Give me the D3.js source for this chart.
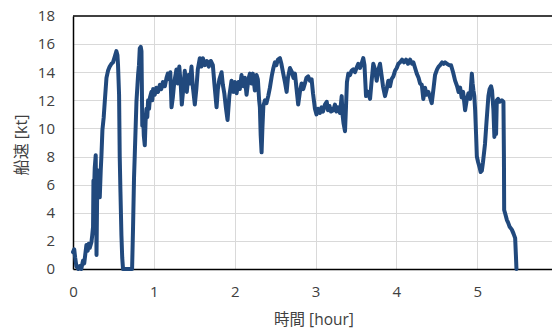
<!DOCTYPE html>
<html>
<head>
<meta charset="utf-8">
<script src="https://cdn.jsdelivr.net/npm/d3@7"></script>
<style>
  html, body { margin: 0; padding: 0; background: #fff; }
  svg { display: block; }
  text { font-family: "Open Sans", "Noto Sans CJK JP", sans-serif; fill: #404040; }
</style>
</head>
<body>
<svg id="chart" width="552" height="330"></svg>
<script>
// elapsed time [hour]
const timeHours = [
  0.000, 0.015, 0.027, 0.042, 0.064, 0.083, 0.102, 0.124, 0.139, 0.151,
  0.166, 0.182, 0.194, 0.207, 0.228, 0.238, 0.248, 0.253, 0.260, 0.269,
  0.281, 0.287, 0.291, 0.300, 0.310, 0.322, 0.331, 0.343, 0.352, 0.364,
  0.380, 0.393, 0.414, 0.433, 0.454, 0.476, 0.495, 0.516, 0.537, 0.550,
  0.557, 0.570, 0.578, 0.587, 0.599, 0.609, 0.619, 0.731, 0.743, 0.755,
  0.764, 0.785, 0.805, 0.816, 0.826, 0.838, 0.847, 0.851, 0.857, 0.867,
  0.876, 0.888, 0.898, 0.909, 0.919, 0.929, 0.941, 0.952, 0.971, 0.981,
  0.991, 1.012, 1.030, 1.053, 1.074, 1.092, 1.111, 1.136, 1.157, 1.173,
  1.191, 1.204, 1.219, 1.235, 1.253, 1.280, 1.296, 1.315, 1.334, 1.346,
  1.359, 1.383, 1.408, 1.427, 1.445, 1.466, 1.482, 1.507, 1.526, 1.544,
  1.569, 1.588, 1.606, 1.631, 1.656, 1.680, 1.705, 1.730, 1.749, 1.776,
  1.792, 1.811, 1.838, 1.854, 1.872, 1.891, 1.912, 1.934, 1.961, 1.984,
  2.002, 2.024, 2.046, 2.064, 2.085, 2.108, 2.126, 2.147, 2.170, 2.188,
  2.207, 2.225, 2.250, 2.271, 2.287, 2.303, 2.312, 2.322, 2.333, 2.343,
  2.355, 2.374, 2.393, 2.415, 2.436, 2.461, 2.479, 2.498, 2.516, 2.535,
  2.560, 2.578, 2.601, 2.622, 2.643, 2.659, 2.684, 2.709, 2.727, 2.746,
  2.764, 2.786, 2.807, 2.828, 2.848, 2.869, 2.888, 2.910, 2.931, 2.952,
  2.969, 2.993, 3.012, 3.030, 3.055, 3.074, 3.092, 3.117, 3.139, 3.154,
  3.173, 3.191, 3.220, 3.241, 3.259, 3.278, 3.303, 3.324, 3.334, 3.346,
  3.365, 3.377, 3.389, 3.406, 3.427, 3.445, 3.467, 3.489, 3.507, 3.529,
  3.550, 3.569, 3.591, 3.606, 3.625, 3.650, 3.675, 3.693, 3.715, 3.736,
  3.757, 3.779, 3.798, 3.817, 3.835, 3.860, 3.881, 3.901, 3.922, 3.940,
  3.963, 3.984, 4.005, 4.025, 4.046, 4.071, 4.095, 4.120, 4.145, 4.170,
  4.194, 4.211, 4.232, 4.253, 4.275, 4.294, 4.315, 4.334, 4.355, 4.374,
  4.396, 4.417, 4.438, 4.461, 4.479, 4.504, 4.523, 4.541, 4.566, 4.585,
  4.603, 4.628, 4.653, 4.677, 4.702, 4.727, 4.752, 4.770, 4.789, 4.808,
  4.826, 4.851, 4.870, 4.892, 4.913, 4.934, 4.944, 4.954, 4.965, 4.975,
  4.987, 4.996, 5.012, 5.031, 5.043, 5.058, 5.072, 5.097, 5.116, 5.139,
  5.154, 5.172, 5.184, 5.201, 5.213, 5.225, 5.234, 5.243, 5.259, 5.278,
  5.305, 5.325, 5.331, 5.334, 5.349, 5.367, 5.383, 5.402, 5.429, 5.451,
  5.470, 5.479, 5.486
];

// ship speed [kt]
const speedKt = [
  1.2, 1.4, 0.8, 0.2, 0.0, 0.2, 0.0, 0.6, 0.4, 1.0,
  1.7, 1.3, 1.8, 1.5, 1.9, 2.4, 3.0, 6.3, 5.5, 7.2,
  8.1, 4.0, 1.0, 6.0, 7.0, 5.6, 5.1, 7.0, 8.1, 9.9,
  10.8, 11.9, 13.6, 14.1, 14.4, 14.6, 14.7, 15.1, 15.5, 15.2,
  14.5, 12.4, 8.0, 5.5, 2.4, 0.8, 0.0, 0.0, 3.0, 6.5,
  8.1, 11.9, 13.8, 14.5, 15.7, 15.8, 15.5, 13.5, 10.2, 11.0,
  9.5, 8.8, 10.5, 11.4, 10.8, 12.0, 11.4, 12.2, 12.6, 12.0,
  12.8, 12.4, 12.9, 12.6, 13.1, 12.8, 13.3, 13.0, 13.6, 13.9,
  13.5, 14.0, 11.5, 12.2, 13.3, 14.2, 13.2, 14.4, 13.0, 11.7,
  12.5, 14.1, 12.6, 13.8, 13.2, 14.4, 13.0, 11.7, 12.8, 14.2,
  15.0, 14.4, 15.0, 14.5, 14.8, 14.4, 14.8, 14.5, 13.2, 11.5,
  12.8, 13.5, 14.0, 13.1, 12.5, 11.5, 10.6, 12.3, 13.4, 12.6,
  13.3, 12.5, 13.3, 12.8, 13.8, 13.0, 13.6, 12.4, 13.5, 13.9,
  13.2, 13.9, 12.7, 13.8, 13.5, 12.0, 11.5, 9.5, 8.3, 10.0,
  11.6, 12.0, 11.8, 12.3, 12.9, 13.8, 14.3, 14.7, 14.5, 14.9,
  15.0, 14.6, 13.9, 13.3, 12.6, 13.6, 14.3, 14.0, 13.6, 13.9,
  12.9, 11.7, 12.6, 13.2, 12.8, 13.2, 13.6, 13.7, 13.4, 13.5,
  12.5, 11.4, 11.0, 11.4, 11.1, 11.5, 11.2, 11.7, 11.9, 11.3,
  11.6, 11.2, 11.3, 11.7, 11.2, 11.5, 11.1, 12.3, 11.0, 10.4,
  9.8, 11.5, 13.3, 13.9, 13.8, 14.1, 14.2, 14.0, 14.3, 14.6,
  14.3, 14.6, 15.0, 14.5, 12.3, 12.6, 12.1, 13.3, 14.6, 14.2,
  13.4, 14.2, 14.6, 13.8, 13.0, 12.3, 12.8, 13.4, 13.0, 13.5,
  13.7, 14.1, 14.3, 14.6, 14.7, 14.9, 14.7, 14.9, 14.6, 14.9,
  14.6, 14.7, 14.3, 13.9, 13.6, 13.2, 13.1, 12.1, 12.9, 12.4,
  12.6, 12.2, 11.8, 12.9, 13.8, 14.2, 14.4, 14.5, 14.7, 14.6,
  14.7, 14.6, 14.5, 14.5, 14.0, 13.4, 13.0, 12.6, 12.9, 12.2,
  12.6, 11.3, 12.0, 12.5, 12.1, 13.9, 13.2, 12.7, 12.3, 11.3,
  9.5, 8.0, 7.6, 7.2, 6.9, 7.0, 7.6, 8.9, 10.5, 12.3,
  12.8, 13.0, 12.7, 11.3, 9.4, 10.5, 9.6, 12.0, 12.1, 11.9,
  12.0, 11.9, 8.0, 4.2, 3.9, 3.5, 3.3, 3.0, 2.8, 2.5,
  2.2, 1.0, 0.0
];

const xTickValues = [0, 1, 2, 3, 4, 5];
const xGridValues = [1, 2, 3, 4, 5, 6];
const yTickValues = [0, 2, 4, 6, 8, 10, 12, 14, 16, 18];

const xTitle = "時間 [hour]";
const yTitle = "船速 [kt]";

const svg = d3.select("#chart");
const plot = { left: 73, right: 558, top: 16, bottom: 269 };

const x = d3.scaleLinear().domain([0, 6]).range([plot.left, plot.right]);
const y = d3.scaleLinear().domain([0, 18]).range([plot.bottom, plot.top]);

// gridlines
const grid = svg.append("g");
grid.selectAll("line.h")
  .data(yTickValues.filter(v => v > 0 && v < 18))
  .join("line")
  .attr("x1", plot.left).attr("x2", plot.right)
  .attr("y1", d => Math.round(y(d)) + 0.5).attr("y2", d => Math.round(y(d)) + 0.5)
  .attr("stroke", "#d9d9d9").attr("stroke-width", 1);
grid.selectAll("line.v")
  .data(xGridValues)
  .join("line")
  .attr("x1", d => Math.round(x(d)) + 0.5).attr("x2", d => Math.round(x(d)) + 0.5)
  .attr("y1", plot.top).attr("y2", plot.bottom)
  .attr("stroke", "#d9d9d9").attr("stroke-width", 1);

// plot-area frame: top edge plus the two axes
svg.append("line")
  .attr("x1", plot.left).attr("x2", plot.right)
  .attr("y1", plot.top).attr("y2", plot.top)
  .attr("stroke", "#000").attr("stroke-width", 1.5);

// axes
const xAxis = d3.axisBottom(x).tickValues(xTickValues).tickSize(0).tickPadding(17).tickFormat(d3.format("d"));
const yAxis = d3.axisLeft(y).tickValues(yTickValues).tickSize(0).tickPadding(18).tickFormat(d3.format("d"));

const gx = svg.append("g").attr("transform", `translate(0,${plot.bottom})`).call(xAxis);
const gy = svg.append("g").attr("transform", `translate(${plot.left},0)`).call(yAxis);
[gx, gy].forEach(g => {
  g.select(".domain").attr("stroke", "#000").attr("stroke-width", 1.5);
  g.selectAll("text").attr("font-size", 15).attr("fill", "#404040")
    .attr("font-family", "'Open Sans', sans-serif");
});

// speed trace
const line = d3.line()
  .x((d, i) => x(timeHours[i]))
  .y(d => y(d));

svg.append("path")
  .datum(speedKt)
  .attr("d", line)
  .attr("fill", "none")
  .attr("stroke", "#21497d")
  .attr("stroke-width", 4)
  .attr("stroke-linejoin", "round")
  .attr("stroke-linecap", "round");

// axis titles
svg.append("text")
  .attr("x", 314).attr("y", 319)
  .attr("text-anchor", "middle").attr("dominant-baseline", "central")
  .attr("font-size", 15.5)
  .attr("font-family", "'Noto Sans CJK JP', 'Open Sans', sans-serif")
  .text(xTitle);

svg.append("text")
  .attr("transform", "translate(21,145) rotate(-90)")
  .attr("text-anchor", "middle").attr("dominant-baseline", "central")
  .attr("font-size", 16)
  .attr("font-family", "'Noto Sans CJK JP', 'Open Sans', sans-serif")
  .text(yTitle);
</script>
</body>
</html>
